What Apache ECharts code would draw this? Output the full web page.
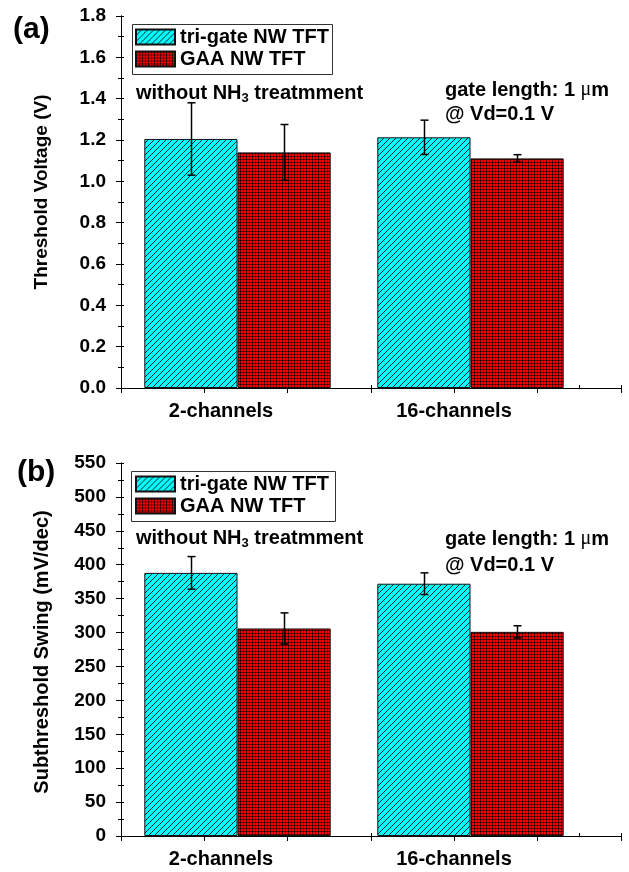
<!DOCTYPE html>
<html>
<head>
<meta charset="utf-8">
<title>Threshold voltage / subthreshold swing</title>
<script src="https://cdn.jsdelivr.net/npm/echarts@6/dist/echarts.min.js"></script>
<style>
  html, body { margin: 0; padding: 0; background: #fff; }
  #main { width: 629px; height: 872px; }
</style>
</head>
<body>
<div id="main"></div>
<script>
// data
var categories = ['2-channels', '16-channels'];
var seriesNames = ['tri-gate NW TFT', 'GAA NW TFT'];
// (a) threshold voltage (V)
var vthTri = [1.205, 1.213];
var vthTriErr = [0.175, 0.083];
var vthGaa = [1.140, 1.111];
var vthGaaErr = [0.135, 0.018];
// (b) subthreshold swing (mV/dec)
var ssTri = [388, 372];
var ssTriErr = [24, 16];
var ssGaa = [306, 301];
var ssGaaErr = [23, 9];

var FONT = 'Arial, "Liberation Sans", sans-serif';

// fill patterns like the origin plot
function hatchPattern() {
  var c = document.createElement('canvas');
  c.width = 6; c.height = 6;
  var ctx = c.getContext('2d');
  ctx.fillStyle = '#00ffff';
  ctx.fillRect(0, 0, 6, 6);
  ctx.strokeStyle = '#002222';
  ctx.lineWidth = 1;
  [-6, 0, 6].forEach(function (k) {
    ctx.beginPath();
    ctx.moveTo(k - 1, 7);
    ctx.lineTo(k + 7, -1);
    ctx.stroke();
  });
  return c;
}
function crossPattern() {
  var c = document.createElement('canvas');
  c.width = 3; c.height = 3;
  var ctx = c.getContext('2d');
  ctx.fillStyle = '#ff0000';
  ctx.fillRect(0, 0, 3, 3);
  ctx.fillStyle = '#6a0000';
  ctx.fillRect(0, 0, 3, 1);
  ctx.fillRect(0, 0, 1, 3);
  ctx.fillStyle = '#100000';
  ctx.fillRect(0, 0, 1, 1);
  return c;
}
var cyanFill = { image: hatchPattern(), repeat: 'repeat' };
var redFill = { image: crossPattern(), repeat: 'repeat' };

function errData(vals, errs, slot) {
  return vals.map(function (v, i) { return [i, v - errs[i], v + errs[i], slot]; });
}
function renderErr(params, api) {
  var band = api.size([1, 0])[0];
  var off = (api.value(3) === 0 ? -0.2 : 0.2) * band;
  var lo = api.coord([api.value(0), api.value(1)]);
  var hi = api.coord([api.value(0), api.value(2)]);
  var x = Math.round(lo[0] + off) + 0.5;
  var st = { stroke: '#000', lineWidth: 1.5 };
  return {
    type: 'group',
    children: [
      { type: 'line', shape: { x1: x, y1: lo[1], x2: x, y2: hi[1] }, style: st },
      { type: 'line', shape: { x1: x - 4, y1: lo[1], x2: x + 4, y2: lo[1] }, style: st },
      { type: 'line', shape: { x1: x - 4, y1: hi[1], x2: x + 4, y2: hi[1] }, style: st }
    ]
  };
}

var lineStyle = { color: '#000', width: 1 };
function bold(size) {
  return { color: '#000', fontFamily: FONT, fontWeight: 'bold', fontSize: size };
}

function frameAxes(g, ymax, yint, dec) {
  var xs = [
    { gridIndex: g, type: 'value', min: 0, max: 6, interval: 1, position: 'bottom',
      axisLine: { lineStyle: lineStyle }, axisTick: { length: 5, lineStyle: lineStyle },
      axisLabel: { show: false }, splitLine: { show: false } },
    { gridIndex: g, type: 'value', min: 0, max: 6, interval: 1, position: 'top',
      axisLine: { lineStyle: lineStyle }, axisTick: { length: 3, lineStyle: lineStyle },
      minorTick: { show: true, splitNumber: 2, length: 3, lineStyle: lineStyle },
      axisLabel: { show: false }, splitLine: { show: false } },
    { gridIndex: g + 1, type: 'category', data: categories, position: 'bottom',
      axisLine: { show: false }, axisTick: { show: false },
      axisLabel: Object.assign({ margin: 13, padding: [0, 33, 0, 0] }, bold(20)) }
  ];
  var ys = [
    { gridIndex: g, type: 'value', min: 0, max: ymax, interval: yint, position: 'left',
      axisLine: { show: true, lineStyle: lineStyle }, axisTick: { length: 5, lineStyle: lineStyle },
      minorTick: { show: true, splitNumber: 2, length: 3, lineStyle: lineStyle },
      axisLabel: Object.assign({ margin: 15, formatter: function (v) { return v.toFixed(dec); } }, bold(19)),
      splitLine: { show: false } },
    { gridIndex: g, type: 'value', min: 0, max: ymax, interval: yint, position: 'right',
      axisLine: { show: true, lineStyle: lineStyle }, axisTick: { length: 3, lineStyle: lineStyle },
      minorTick: { show: true, splitNumber: 2, length: 3, lineStyle: lineStyle },
      axisLabel: { show: false }, splitLine: { show: false } },
    { gridIndex: g + 1, type: 'value', min: 0, max: ymax, show: false, splitLine: { show: false } }
  ];
  return { xs: xs, ys: ys };
}

var fa = frameAxes(0, 1.8, 0.2, 1);
var fb = frameAxes(2, 550, 50, 0);

function barSeries(name, fill, vals, xi, yi) {
  return {
    name: name, type: 'bar', xAxisIndex: xi, yAxisIndex: yi, data: vals,
    barGap: '0%', barCategoryGap: '20%',
    itemStyle: { color: fill, borderColor: '#111', borderWidth: 1 }
  };
}
function errSeries(vals, errs, slot, xi, yi) {
  return {
    type: 'custom', xAxisIndex: xi, yAxisIndex: yi, z: 5,
    data: errData(vals, errs, slot), renderItem: renderErr,
    encode: { x: 0, y: [1, 2] }
  };
}

function txt(x, y, text, size, rotation) {
  return {
    type: 'text', x: x, y: y, rotation: rotation || 0,
    style: {
      text: text, fill: '#000', font: 'bold ' + size + 'px ' + FONT,
      verticalAlign: 'middle', align: rotation ? 'center' : 'left',
      rich: {
        sub: { fontSize: 13, fontWeight: 'bold', fontFamily: FONT, padding: [11, 0, 0, 0] },
        mu: { fontSize: size, fontWeight: 'normal', fontFamily: '"Liberation Serif", serif' }
      }
    }
  };
}

function legendBox(x, y, w, h) {
  return { type: 'rect', shape: { x: x + 0.5, y: y + 0.5, width: w, height: h },
    style: { fill: 'none', stroke: '#333', lineWidth: 1 }, z: 10 };
}
function legendAt(top) {
  return { left: 135, top: top, orient: 'vertical', itemWidth: 39, itemHeight: 15, itemGap: 2,
    icon: 'rect', data: seriesNames, selectedMode: false, padding: 0,
    textStyle: bold(20) };
}

var chart = echarts.init(document.getElementById('main'));
chart.setOption({
  animation: false,
  backgroundColor: '#fff',
  grid: [
    { left: 121, top: 16, width: 500, height: 372 },
    { left: 121, top: 16, width: 466, height: 372 },
    { left: 121, top: 463, width: 500, height: 373 },
    { left: 121, top: 463, width: 466, height: 373 }
  ],
  xAxis: fa.xs.concat(fb.xs),
  yAxis: fa.ys.concat(fb.ys),
  legend: [legendAt(27), legendAt(474)],
  graphic: [
    legendBox(132, 24, 200, 50),
    legendBox(131, 471, 204, 50),
    txt(13, 30, '(a)', 30),
    txt(17, 473, '(b)', 30),
    txt(42, 192, 'Threshold Voltage (V)', 19, Math.PI / 2),
    txt(42, 652, 'Subthreshold Swing (mV/dec)', 20, Math.PI / 2),
    txt(136, 93, 'without NH{sub|3} treatmment', 20),
    txt(136, 538, 'without NH{sub|3} treatmment', 20),
    txt(445, 90, 'gate length: 1 {mu|\u03bc}m', 20),
    txt(445, 114, '@ Vd=0.1 V', 20),
    txt(445, 539, 'gate length: 1 {mu|\u03bc}m', 20),
    txt(445, 565, '@ Vd=0.1 V', 20)
  ],
  series: [
    barSeries(seriesNames[0], cyanFill, vthTri, 2, 2),
    barSeries(seriesNames[1], redFill, vthGaa, 2, 2),
    errSeries(vthTri, vthTriErr, 0, 2, 2),
    errSeries(vthGaa, vthGaaErr, 1, 2, 2),
    barSeries(seriesNames[0], cyanFill, ssTri, 5, 5),
    barSeries(seriesNames[1], redFill, ssGaa, 5, 5),
    errSeries(ssTri, ssTriErr, 0, 5, 5),
    errSeries(ssGaa, ssGaaErr, 1, 5, 5)
  ]
});
</script>
</body>
</html>
